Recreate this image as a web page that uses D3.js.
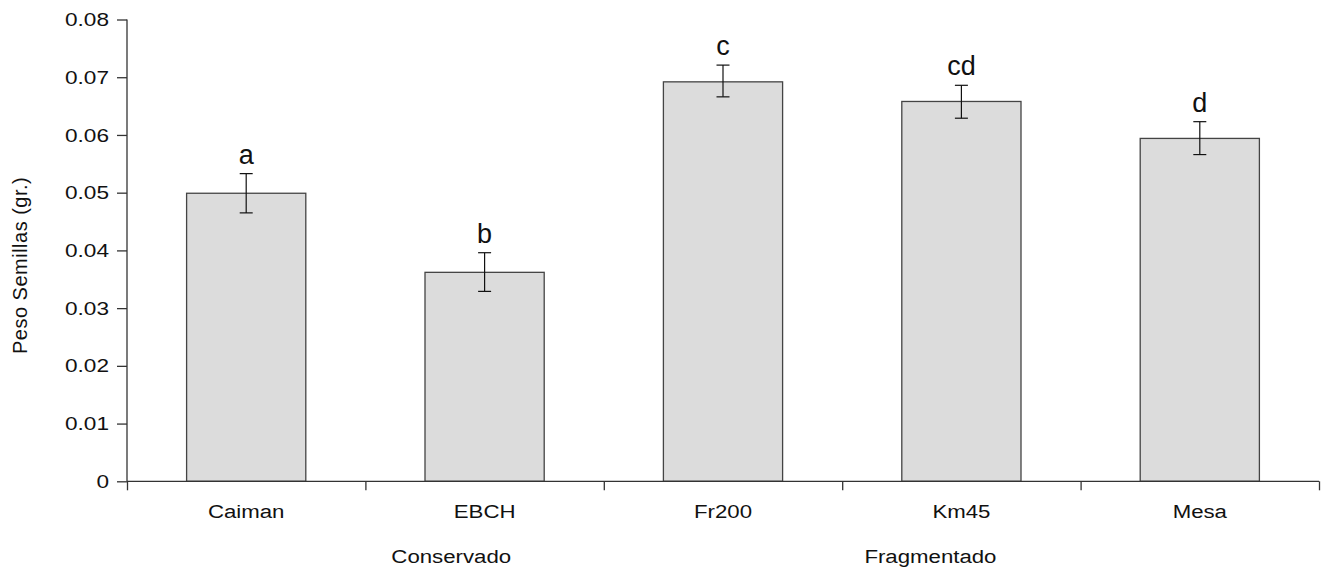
<!DOCTYPE html>
<html lang="es">
<head>
  <meta charset="utf-8">
  <title>Peso Semillas</title>
  <script src="https://d3js.org/d3.v7.min.js"></script>
  <style>
    body { margin: 0; background: #fff; }
    text { font-family: "Liberation Sans", Arial, sans-serif; fill: #111; }
  </style>
</head>
<body>
  <script>
    var sites = ["Caiman", "EBCH", "Fr200", "Km45", "Mesa"];
    var means = [0.0499, 0.0362, 0.0692, 0.0658, 0.0594];
    var errLow = [0.0465, 0.0329, 0.0666, 0.0629, 0.0566];
    var errHigh = [0.0533, 0.0396, 0.0721, 0.0686, 0.0623];
    var letters = ["a", "b", "c", "cd", "d"];
    var groups = ["Conservado", "Fragmentado"];
    var groupCenters = [1.36, 3.37]; // in band units
    var yTicks = [0, 0.01, 0.02, 0.03, 0.04, 0.05, 0.06, 0.07, 0.08];

    var w = 1325, h = 569;
    var mLeft = 127, mRight = 1319, mTop = 19.5, mBottom = 481.3;
    var stretch = 1.17; // the reference text is a little wider than plain Arial

    var svg = d3.select("body").append("svg")
      .attr("width", w)
      .attr("height", h);

    var x = d3.scaleBand().domain(sites).range([mLeft, mRight]).paddingInner(0.5).paddingOuter(0.25);
    var y = d3.scaleLinear().domain([0, 0.08]).range([mBottom, mTop]);

    // bars
    svg.selectAll("rect.bar")
      .data(sites)
      .enter()
      .append("rect")
      .attr("class", "bar")
      .attr("x", function(d) { return x(d); })
      .attr("y", function(d, i) { return y(means[i]); })
      .attr("width", x.bandwidth())
      .attr("height", function(d, i) { return mBottom - y(means[i]); })
      .attr("fill", "#dcdcdc")
      .attr("stroke", "#444")
      .attr("stroke-width", 1.3);

    // error bars
    var eb = svg.selectAll("g.err")
      .data(sites)
      .enter()
      .append("g")
      .attr("class", "err")
      .attr("stroke", "#111")
      .attr("stroke-width", 1.2);
    eb.append("line")
      .attr("x1", function(d) { return x(d) + x.bandwidth() / 2; })
      .attr("x2", function(d) { return x(d) + x.bandwidth() / 2; })
      .attr("y1", function(d, i) { return y(errLow[i]); })
      .attr("y2", function(d, i) { return y(errHigh[i]); });
    [errLow, errHigh].forEach(function(arr) {
      eb.append("line")
        .attr("x1", function(d) { return x(d) + x.bandwidth() / 2 - 6.5; })
        .attr("x2", function(d) { return x(d) + x.bandwidth() / 2 + 6.5; })
        .attr("y1", function(d, i) { return y(arr[i]); })
        .attr("y2", function(d, i) { return y(arr[i]); });
    });

    // letters
    svg.selectAll("text.letter")
      .data(sites)
      .enter()
      .append("text")
      .attr("class", "letter")
      .attr("x", function(d) { return x(d) + x.bandwidth() / 2; })
      .attr("y", function(d, i) { return y(errHigh[i]) - 10; })
      .attr("text-anchor", "middle")
      .attr("font-size", "27px")
      .text(function(d, i) { return letters[i]; });

    // y axis
    var yAxis = svg.append("g")
      .attr("transform", "translate(" + mLeft + ",0)")
      .call(d3.axisLeft(y).tickValues(yTicks).tickSize(10).tickPadding(8)
        .tickFormat(function(d) { return d === 0 ? "0" : d3.format(".2f")(d); }));
    yAxis.selectAll("text")
      .attr("font-size", "19px")
      .style("font-family", "Liberation Sans, Arial, sans-serif")
      .attr("x", -18 / 1.19)
      .attr("transform", "scale(1.19,1)")
      .attr("fill", "#111");

    // x axis
    var xb = d3.scaleLinear().domain([0, sites.length]).range([mLeft, mRight]);
    var xAxis = svg.append("g")
      .attr("transform", "translate(0," + mBottom + ")")
      .call(d3.axisBottom(xb).tickValues(d3.range(0, sites.length + 1)).tickSize(9).tickFormat(""));
    [yAxis, xAxis].forEach(function(a) {
      a.select(".domain").attr("stroke", "#333").attr("stroke-width", 1.3);
      a.selectAll(".tick line").attr("stroke", "#333").attr("stroke-width", 1.3);
    });
    yAxis.select(".domain").attr("d", "M0," + mTop + "V" + mBottom);
    xAxis.select(".domain").attr("d", "M" + mLeft + ",0H" + mRight);

    svg.selectAll("text.cat")
      .data(sites)
      .enter()
      .append("text")
      .attr("class", "cat")
      .attr("transform", function(d) {
        return "translate(" + (x(d) + x.bandwidth() / 2) + ",518) scale(" + stretch + ",1)";
      })
      .attr("text-anchor", "middle")
      .attr("font-size", "19px")
      .text(function(d) { return d; });

    svg.selectAll("text.grp")
      .data(groups)
      .enter()
      .append("text")
      .attr("class", "grp")
      .attr("transform", function(d, i) {
        return "translate(" + xb(groupCenters[i]) + ",563) scale(" + stretch + ",1)";
      })
      .attr("text-anchor", "middle")
      .attr("font-size", "19px")
      .text(function(d) { return d; });

    svg.append("text")
      .attr("transform", "translate(26.5," + ((mTop + mBottom) / 2 + 15) + ") rotate(-90)")
      .attr("text-anchor", "middle")
      .attr("font-size", "20px")
      .style("letter-spacing", "0.5px")
      .text("Peso Semillas (gr.)");
  </script>
</body>
</html>
